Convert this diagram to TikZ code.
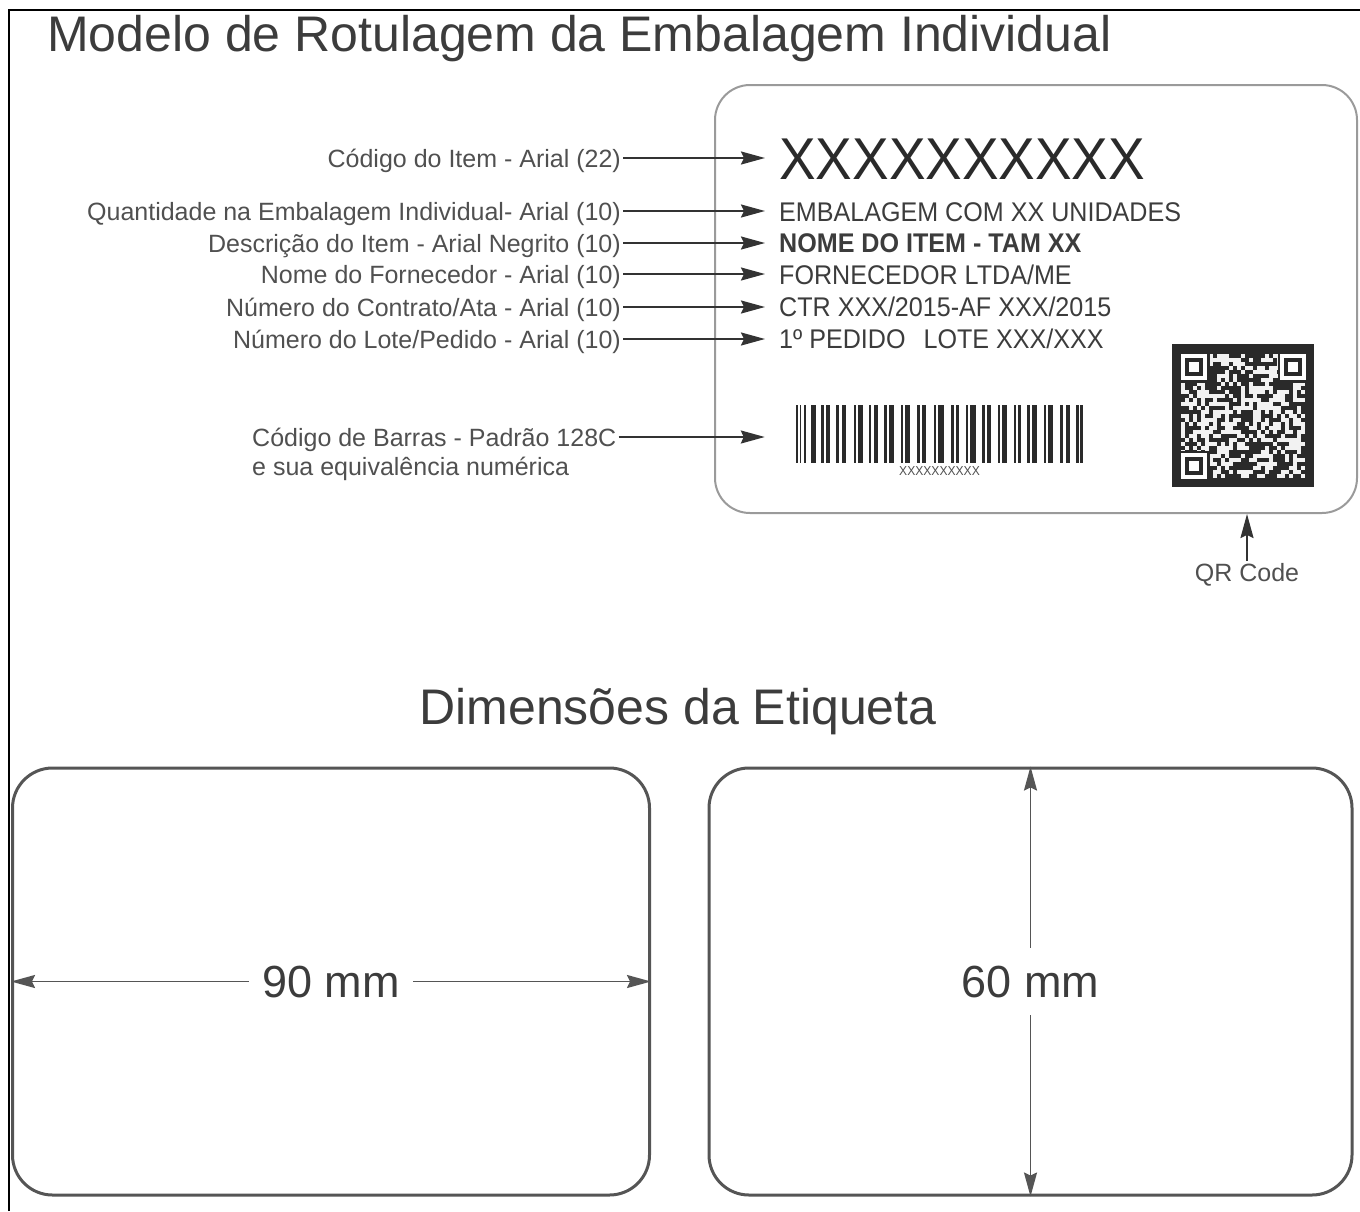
\documentclass[tikz,border=0pt]{standalone}
\usepackage{fontspec}
\setmainfont{Liberation Sans}
\newfontfamily\cardfont[FakeStretch=0.93]{Liberation Sans}
\usepackage{xcolor}
\usetikzlibrary{arrows.meta,positioning}
\definecolor{labelgray}{HTML}{505050}
\definecolor{inkgray}{HTML}{3C3C3C}
\definecolor{darkink}{HTML}{2A2A2A}
\definecolor{cardgray}{HTML}{9A9A9A}
\definecolor{boxgray}{HTML}{555555}
\definecolor{linegray}{HTML}{333333}

\begin{document}
\begin{tikzpicture}[x=1pt,y=-1pt,>={Stealth[length=24pt,width=13pt,inset=3pt]}]
                \tikzstyle{lbl} = [anchor=east, inner sep=2pt, text height=18pt, text depth=0pt, text=labelgray, font=\fontsize{25}{30}\selectfont]
                \tikzstyle{cardtxt} = [anchor=west, inner sep=0pt, text height=19pt, text depth=0pt, text=inkgray, font=\cardfont\fontsize{27}{32}\selectfont]
                \tikzstyle{arr} = [->, line width=2pt, draw=linegray, shorten >=14pt]
                \tikzstyle{dimbox} = [draw=boxgray, line width=3pt, rounded corners=40pt, inner sep=0pt]
                \tikzstyle{dimtxt} = [fill=white, text=inkgray, font=\fontsize{45}{50}\selectfont]
                \useasboundingbox (0,0) rectangle (1360,1211);

                % outer frame (only top and left are visible)
                \draw [line width=2.5pt] (9,1211) -- (9,10) -- (1360,10);

                \node [anchor=base west, inner sep=0pt, text=inkgray, font=\fontsize{50}{60}\selectfont] (title) at (47,51) {Modelo de Rotulagem da Embalagem Individual};

                % the label itself
                \node [draw=cardgray, line width=2pt, rounded corners=35pt, inner sep=0pt, minimum width=642pt, minimum height=428pt] (card) at (1036,299) {};

                \node [cardtxt, text height=42pt, text=darkink, font=\cardfont\fontsize{59}{64}\selectfont] (tcod) at (779,158) {XXXXXXXXXX};
                \node [cardtxt] (tqty) at (779,212) {EMBALAGEM COM XX UNIDADES};
                \node [cardtxt, font=\cardfont\bfseries\fontsize{27}{32}\selectfont] (tname) at (779,243) {NOME DO ITEM - TAM XX};
                \node [cardtxt] (tsup) at (779,275) {FORNECEDOR LTDA/ME};
                \node [cardtxt] (tctr) at (779,307) {CTR XXX/2015-AF XXX/2015};
                \node [cardtxt] (tlot) at (779,339) {1º PEDIDO\hspace{18pt}LOTE XXX/XXX};

                \node [lbl] (lcod) at (623,158) {Código do Item - Arial (22)};
                \node [lbl] (lqty) at (623,211) {Quantidade na Embalagem Individual- Arial (10)};
                \node [lbl] (lname) at (623,243) {Descrição do Item - Arial Negrito (10)};
                \node [lbl] (lsup) at (623,274) {Nome do Fornecedor - Arial (10)};
                \node [lbl] (lctr) at (623,307) {Número do Contrato/Ata - Arial (10)};
                \node [lbl] (llot) at (623,339) {Número do Lote/Pedido - Arial (10)};
                \node [lbl, anchor=west] (lbar) at (250,437) {Código de Barras - Padrão 128C};
                \node [lbl, below=7pt of lbar.south west, anchor=north west] (lbarnum) {e sua equivalência numérica};

                \draw [arr] (lcod.east) -- (lcod.east -| tcod.west);
                \draw [arr] (lqty.east) -- (lqty.east -| tqty.west);
                \draw [arr] (lname.east) -- (lname.east -| tname.west);
                \draw [arr] (lsup.east) -- (lsup.east -| tsup.west);
                \draw [arr] (lctr.east) -- (lctr.east -| tctr.west);
                \draw [arr] (llot.east) -- (llot.east -| tlot.west);

                % bar code
                \node [inner sep=0pt, minimum width=287pt, minimum height=58pt] (bars) at (939.5,434) {};
                \foreach \x/\w in {0/2,4/1,8/1.5,15/5,25/3,30/4,40/3,46/4,58/2,62/5,73/2,78/4,88/3,93/5,105/2,109/5,121/3,126/4,138/2,142/6,155/3,160/3,170/2,174/6,186/3,191/4,202/2,206/5,218/2,222/3,231/3,236/5,248/2,252/5,264/3,270/4,280/3,284/3}
                    \fill [darkink] (796+\x,405) rectangle ++(\w,58);
                \node [inner sep=0pt, text=labelgray, font=\cardfont\fontsize{13}{14}\selectfont, below=3pt of bars] (barnum) {XXXXXXXXXX};
                \draw [arr, shorten >=31pt] (lbar.east) -- (lbar.east -| bars.west);

                % QR code
                \node [fill=darkink, inner sep=0pt, minimum width=142pt, minimum height=143pt] (qr) at (1243,415.5) {};
                \pgfmathsetseed{17}
                \foreach \i in {0,...,30}
                    \foreach \j in {0,...,30} {
                        \pgfmathrandominteger{\on}{0}{1}
                        \ifnum\on=1 \fill [white!90!gray] (1181+4*\i,354+4*\j) rectangle ++(4,4); \fi
                    }
                \foreach \px/\py in {1181/354,1280/354,1181/453} {
                    \fill [darkink] (\px-2,\py-2) rectangle ++(31,31);
                    \fill [white] (\px,\py) rectangle ++(26,26);
                    \fill [darkink] (\px+4,\py+4) rectangle ++(18,18);
                    \fill [white] (\px+8,\py+8) rectangle ++(10,10);
                }
                \node [lbl, anchor=center] (lqr) at (1247,572) {QR Code};
                \draw [arr, shorten >=0pt] (lqr.north) -- (lqr.north |- card.south);

                \node [anchor=base, inner sep=0pt, text=inkgray, font=\fontsize{50}{60}\selectfont] (dimtitle) at (678,724) {Dimensões da Etiqueta};

                % label dimensions
                \node [dimbox, minimum width=637pt, minimum height=427pt] (lbox) at (331,981.5) {};
                \node [dimbox, minimum width=643pt, minimum height=427pt] (rbox) at (1030.5,981.5) {};
                \draw [<->, line width=1.8pt, draw=boxgray] (lbox.west) -- node [dimtxt, inner xsep=13pt] (wlbl) {90 mm} (lbox.east);
                \draw [<->, line width=1.8pt, draw=boxgray] (rbox.north) -- node [dimtxt, inner ysep=18pt] (hlbl) {60 mm} (rbox.south);
\end{tikzpicture}
\end{document}
